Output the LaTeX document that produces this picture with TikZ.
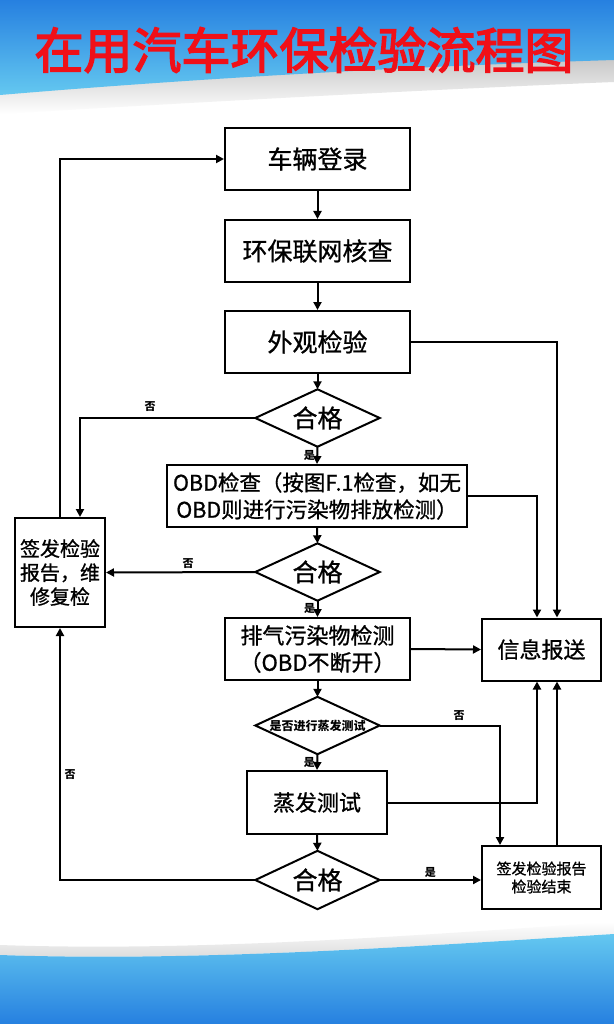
\documentclass[tikz,border=0pt]{standalone}
\usepackage{fontspec}
\usetikzlibrary{arrows.meta,calc}
\setmainfont{Noto Sans CJK SC}
\newfontfamily\boxfont[FakeBold=0.9]{Noto Sans CJK SC}
\newfontfamily\titlefont[FakeBold=3]{Noto Sans CJK SC}
\definecolor{topblue}{RGB}{38,128,224}
\definecolor{lightcyan}{RGB}{100,200,240}
\definecolor{titlered}{RGB}{240,16,24}
\begin{document}
\begin{tikzpicture}[x=1pt,y=-1pt,
  line/.style={line width=2pt},
  arr/.style={line width=2pt, -{Triangle[length=8pt,width=8pt]}},
  box/.style={draw, line width=2pt, inner sep=0pt, align=center, font=\boxfont\fontsize{22}{27}\selectfont},
  big/.style={font=\boxfont\fontsize{25}{27}\selectfont},
  dia/.style={inner sep=0pt, minimum width=124pt, minimum height=57pt, font=\boxfont\fontsize{25}{26}\selectfont},
  lab/.style={font=\bfseries\fontsize{11}{12}\selectfont, inner sep=1.5pt}]
\useasboundingbox (0,0) rectangle (614,1024);
% background
\fill[white] (0,0) rectangle (614,1024);
\shade[top color=black!22, bottom color=white] (0,92) .. controls (200,76) and (420,64) .. (614,58) -- (614,82) .. controls (420,90) and (200,102) .. (0,114) -- cycle;
\shade[top color=topblue, bottom color=lightcyan] (0,0) -- (614,0) -- (614,60) .. controls (420,66) and (200,78) .. (0,95) -- cycle;
\shade[top color=white, bottom color=black!15] (0,945) .. controls (200,952) and (420,935) .. (614,922) -- (614,934) .. controls (420,946) and (200,962) .. (0,955) -- cycle;
\shade[top color=lightcyan, bottom color=topblue] (0,955) .. controls (200,962) and (420,946) .. (614,934) -- (614,1024) -- (0,1024) -- cycle;
% title
\node[font=\titlefont\fontsize{49}{50}\selectfont, text=titlered, inner sep=0pt] (title) at (304,50) {在用汽车环保检验流程图};
% nodes
\node[box, big, minimum width=185pt, minimum height=62pt] (reg) at (317.5,159) {车辆登录};
\node[box, big, minimum width=185pt, minimum height=62pt] (net) at (317.5,251) {环保联网核查};
\node[box, big, minimum width=185pt, minimum height=62pt] (look) at (317.5,342) {外观检验};
\node[dia] (d1) at (317.5,418) {合格};
\node[box, font=\boxfont\fontsize{21.5}{27}\selectfont, minimum width=300pt, minimum height=62pt] (obd) at (317,496) {OBD检查（按图F.1检查，如无\\OBD则进行污染物排放检测）};
\node[dia] (d2) at (317.5,572) {合格};
\node[box, minimum width=185pt, minimum height=62pt] (exh) at (317.5,649) {排气污染物检测\\（OBD不断开）};
\node[dia, font=\bfseries\fontsize{12}{13}\selectfont] (d4) at (317.5,725.5) {是否进行蒸发测试};
\node[box, minimum width=140pt, minimum height=63pt] (evap) at (317,802.5) {蒸发测试};
\node[dia, minimum height=58pt] (d3) at (317.5,880) {合格};
\node[box, minimum width=119pt, minimum height=62pt] (info) at (541.5,649.5) {信息报送};
\node[box, minimum width=119pt, minimum height=63pt, font=\boxfont\fontsize{15}{18}\selectfont] (end) at (541.5,877.5) {签发检验报告\\检验结束};
\node[box, minimum width=90pt, minimum height=109pt, font=\boxfont\fontsize{20}{24}\selectfont] (fail) at (60,572.5) {签发检验\\报告，维\\修复检};
% diamonds
\foreach \d in {d1,d2,d3,d4}
  \draw[line] (\d.north) -- (\d.east) -- (\d.south) -- (\d.west) -- cycle;
% connectors
\draw[arr] (reg) -- (net);
\draw[arr] (net) -- (look);
\draw[arr] (look) -- (d1.north);
\draw[arr] (d1.south) -- (obd.north) node[lab, midway, left] {是};
\draw[arr] (obd.south) -- (d2.north);
\draw[arr] (d2.south) -- (exh.north) node[lab, midway, left] {是};
\draw[arr] (exh.south) -- (d4.north);
\draw[arr] (d4.south) -- (evap.north) node[lab, midway, left] {是};
\draw[arr] (evap.south) -- (d3.north);
\draw[arr] (d3.east) -- (end.west |- d3.east) node[lab, midway, above] {是};
\draw[arr] (d3.west) -| (fail.south) node[lab, pos=0.71, right, xshift=2pt] {否};
\draw[arr] (fail.north) |- (reg.west);
\draw[arr] (d1.west) -| ([xshift=20pt]fail.north) node[lab, pos=0.3, above, yshift=4pt] {否};
\draw[arr] (d2.west) -- (fail.east) node[lab, pos=0.45, above, yshift=1pt] {否};
\draw[arr] (look.east) -| ([xshift=15.5pt]info.north);
\draw[arr] (obd.east) -| ([xshift=-4.5pt]info.north);
\draw[arr] (exh.east) -- (info.west);
\draw[arr] (d4.east) -| ([xshift=-41.5pt]end.north) node[lab, pos=0.33, above, yshift=2pt] {否};
\draw[arr] (evap.east) -| ([xshift=-4.5pt]info.south);
\draw[arr] ([xshift=15.5pt]end.north) -- ([xshift=15.5pt]info.south);
\end{tikzpicture}
\end{document}
